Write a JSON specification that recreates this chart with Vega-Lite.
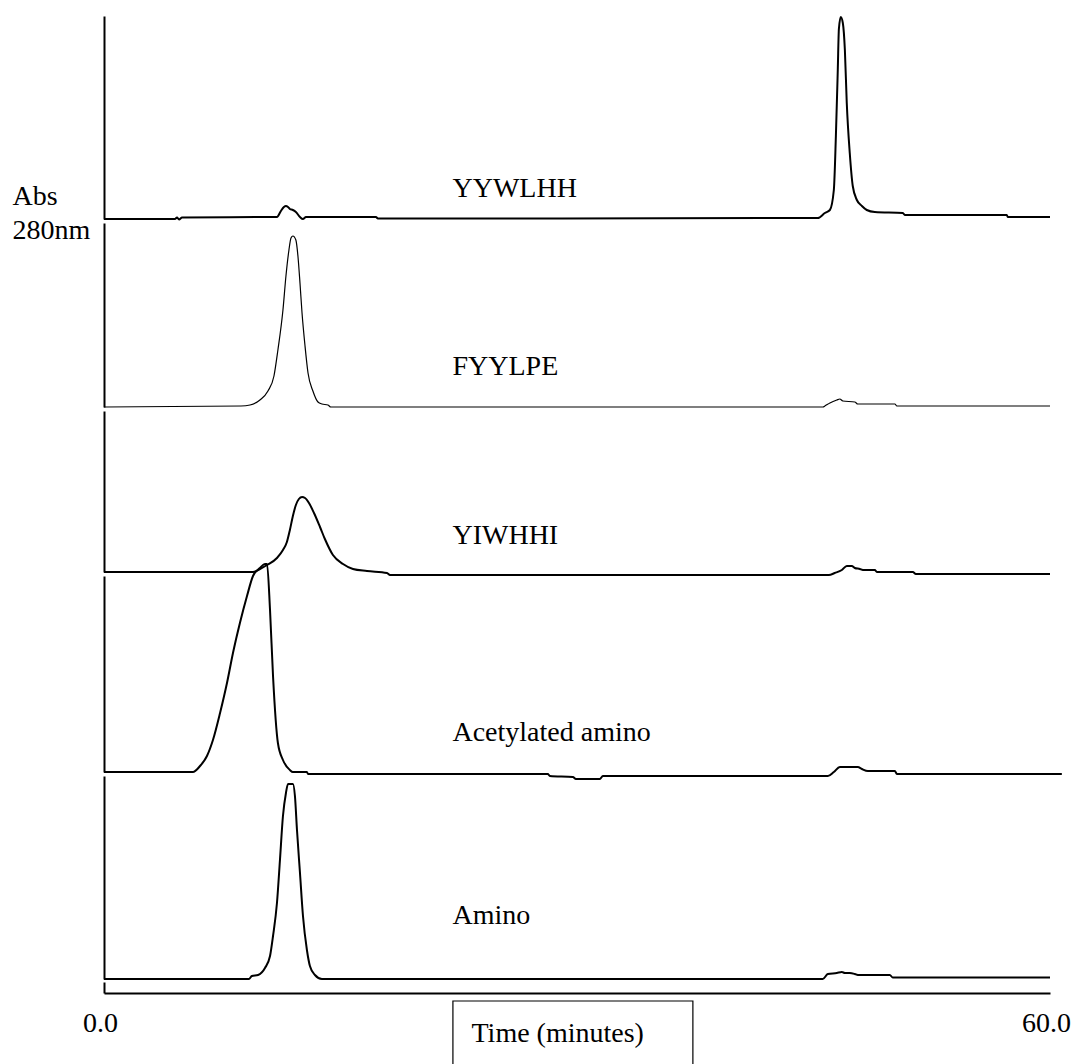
{
  "$schema": "https://vega.github.io/schema/vega-lite/v6.json",
  "background": "white",
  "padding": {"left": 12, "top": 12, "right": 0, "bottom": 0},
  "bounds": "flush",
  "spacing": 4,
  "config": {
    "view": {"stroke": null},
    "axis": {
      "domainColor": "black", "domainWidth": 2, "ticks": false, "labels": false, "grid": false,
      "titleFont": "Liberation Serif", "titleFontWeight": "normal", "titleFontSize": 28, "titleColor": "black",
      "labelFont": "Liberation Serif", "labelFontSize": 28, "labelColor": "black"
    },
    "text": {"font": "Liberation Serif", "fontSize": 28, "color": "black", "align": "left", "baseline": "alphabetic"}
  },
  "datasets": {
    "traces": [
      {"s": "YYWLHH", "t": 0, "v": 0}, {"s": "YYWLHH", "t": 4.5, "v": 0}, {"s": "YYWLHH", "t": 4.63, "v": 1.5},
      {"s": "YYWLHH", "t": 4.76, "v": -0.5}, {"s": "YYWLHH", "t": 4.95, "v": 1.5}, {"s": "YYWLHH", "t": 10.97, "v": 2},
      {"s": "YYWLHH", "t": 11.22, "v": 8}, {"s": "YYWLHH", "t": 11.41, "v": 12}, {"s": "YYWLHH", "t": 11.54, "v": 13},
      {"s": "YYWLHH", "t": 11.67, "v": 12}, {"s": "YYWLHH", "t": 11.79, "v": 10}, {"s": "YYWLHH", "t": 11.98, "v": 9},
      {"s": "YYWLHH", "t": 12.17, "v": 7}, {"s": "YYWLHH", "t": 12.43, "v": 2}, {"s": "YYWLHH", "t": 12.62, "v": 0},
      {"s": "YYWLHH", "t": 12.81, "v": 2}, {"s": "YYWLHH", "t": 17.25, "v": 2}, {"s": "YYWLHH", "t": 17.37, "v": 0.5},
      {"s": "YYWLHH", "t": 45.28, "v": 1}, {"s": "YYWLHH", "t": 45.72, "v": 6}, {"s": "YYWLHH", "t": 46.04, "v": 9},
      {"s": "YYWLHH", "t": 46.29, "v": 29}, {"s": "YYWLHH", "t": 46.42, "v": 83}, {"s": "YYWLHH", "t": 46.54, "v": 149},
      {"s": "YYWLHH", "t": 46.61, "v": 190}, {"s": "YYWLHH", "t": 46.73, "v": 202}, {"s": "YYWLHH", "t": 46.86, "v": 196},
      {"s": "YYWLHH", "t": 46.99, "v": 169}, {"s": "YYWLHH", "t": 47.11, "v": 116}, {"s": "YYWLHH", "t": 47.3, "v": 66},
      {"s": "YYWLHH", "t": 47.49, "v": 33}, {"s": "YYWLHH", "t": 47.75, "v": 19}, {"s": "YYWLHH", "t": 48.07, "v": 13},
      {"s": "YYWLHH", "t": 48.38, "v": 9}, {"s": "YYWLHH", "t": 48.89, "v": 7}, {"s": "YYWLHH", "t": 50.67, "v": 6},
      {"s": "YYWLHH", "t": 50.79, "v": 4}, {"s": "YYWLHH", "t": 57.26, "v": 4}, {"s": "YYWLHH", "t": 57.32, "v": 2},
      {"s": "YYWLHH", "t": 60, "v": 2},

      {"s": "FYYLPE", "t": 0, "v": 0}, {"s": "FYYLPE", "t": 8.69, "v": 1}, {"s": "FYYLPE", "t": 9.26, "v": 2},
      {"s": "FYYLPE", "t": 9.89, "v": 7}, {"s": "FYYLPE", "t": 10.4, "v": 16}, {"s": "FYYLPE", "t": 10.78, "v": 31},
      {"s": "FYYLPE", "t": 11.03, "v": 57}, {"s": "FYYLPE", "t": 11.35, "v": 97}, {"s": "FYYLPE", "t": 11.54, "v": 131},
      {"s": "FYYLPE", "t": 11.73, "v": 157}, {"s": "FYYLPE", "t": 11.86, "v": 169}, {"s": "FYYLPE", "t": 11.98, "v": 171},
      {"s": "FYYLPE", "t": 12.17, "v": 167}, {"s": "FYYLPE", "t": 12.3, "v": 151}, {"s": "FYYLPE", "t": 12.43, "v": 124},
      {"s": "FYYLPE", "t": 12.56, "v": 94}, {"s": "FYYLPE", "t": 12.75, "v": 61}, {"s": "FYYLPE", "t": 12.94, "v": 34},
      {"s": "FYYLPE", "t": 13.25, "v": 16}, {"s": "FYYLPE", "t": 13.57, "v": 5}, {"s": "FYYLPE", "t": 13.82, "v": 3},
      {"s": "FYYLPE", "t": 14.2, "v": 2}, {"s": "FYYLPE", "t": 14.39, "v": 0}, {"s": "FYYLPE", "t": 45.6, "v": 0},
      {"s": "FYYLPE", "t": 45.72, "v": 1}, {"s": "FYYLPE", "t": 46.04, "v": 4}, {"s": "FYYLPE", "t": 46.48, "v": 7},
      {"s": "FYYLPE", "t": 46.67, "v": 8}, {"s": "FYYLPE", "t": 46.86, "v": 6}, {"s": "FYYLPE", "t": 47.62, "v": 5},
      {"s": "FYYLPE", "t": 47.81, "v": 3}, {"s": "FYYLPE", "t": 50.16, "v": 3}, {"s": "FYYLPE", "t": 50.29, "v": 1},
      {"s": "FYYLPE", "t": 60, "v": 1},

      {"s": "YIWHHI", "t": 0, "v": 0}, {"s": "YIWHHI", "t": 9.45, "v": 0}, {"s": "YIWHHI", "t": 9.89, "v": 3},
      {"s": "YIWHHI", "t": 10.34, "v": 7}, {"s": "YIWHHI", "t": 10.97, "v": 14}, {"s": "YIWHHI", "t": 11.35, "v": 22},
      {"s": "YIWHHI", "t": 11.6, "v": 30}, {"s": "YIWHHI", "t": 11.79, "v": 42}, {"s": "YIWHHI", "t": 11.98, "v": 56},
      {"s": "YIWHHI", "t": 12.17, "v": 67}, {"s": "YIWHHI", "t": 12.36, "v": 73}, {"s": "YIWHHI", "t": 12.56, "v": 75},
      {"s": "YIWHHI", "t": 12.75, "v": 74}, {"s": "YIWHHI", "t": 13.0, "v": 69}, {"s": "YIWHHI", "t": 13.32, "v": 59},
      {"s": "YIWHHI", "t": 13.7, "v": 45}, {"s": "YIWHHI", "t": 14.01, "v": 33}, {"s": "YIWHHI", "t": 14.52, "v": 17},
      {"s": "YIWHHI", "t": 15.16, "v": 8}, {"s": "YIWHHI", "t": 15.79, "v": 3}, {"s": "YIWHHI", "t": 16.68, "v": 1},
      {"s": "YIWHHI", "t": 17.95, "v": -1}, {"s": "YIWHHI", "t": 18.14, "v": -3}, {"s": "YIWHHI", "t": 45.97, "v": -3},
      {"s": "YIWHHI", "t": 46.35, "v": -1}, {"s": "YIWHHI", "t": 46.8, "v": 2}, {"s": "YIWHHI", "t": 47.11, "v": 6},
      {"s": "YIWHHI", "t": 47.43, "v": 6}, {"s": "YIWHHI", "t": 47.62, "v": 4}, {"s": "YIWHHI", "t": 47.94, "v": 3},
      {"s": "YIWHHI", "t": 48.13, "v": 2}, {"s": "YIWHHI", "t": 48.89, "v": 2}, {"s": "YIWHHI", "t": 49.02, "v": 0},
      {"s": "YIWHHI", "t": 51.3, "v": 0}, {"s": "YIWHHI", "t": 51.49, "v": -2}, {"s": "YIWHHI", "t": 60, "v": -2},

      {"s": "Acetylated amino", "t": 0, "v": 0}, {"s": "Acetylated amino", "t": 5.64, "v": 0},
      {"s": "Acetylated amino", "t": 6.09, "v": 6}, {"s": "Acetylated amino", "t": 6.53, "v": 16},
      {"s": "Acetylated amino", "t": 6.91, "v": 32}, {"s": "Acetylated amino", "t": 7.36, "v": 59},
      {"s": "Acetylated amino", "t": 7.8, "v": 89}, {"s": "Acetylated amino", "t": 8.18, "v": 119},
      {"s": "Acetylated amino", "t": 8.62, "v": 149}, {"s": "Acetylated amino", "t": 9.07, "v": 176},
      {"s": "Acetylated amino", "t": 9.45, "v": 196}, {"s": "Acetylated amino", "t": 9.89, "v": 204},
      {"s": "Acetylated amino", "t": 10.21, "v": 208}, {"s": "Acetylated amino", "t": 10.34, "v": 208},
      {"s": "Acetylated amino", "t": 10.53, "v": 162}, {"s": "Acetylated amino", "t": 10.72, "v": 96},
      {"s": "Acetylated amino", "t": 11.03, "v": 29}, {"s": "Acetylated amino", "t": 11.35, "v": 12},
      {"s": "Acetylated amino", "t": 11.79, "v": 2}, {"s": "Acetylated amino", "t": 11.98, "v": 0},
      {"s": "Acetylated amino", "t": 12.87, "v": 0}, {"s": "Acetylated amino", "t": 12.94, "v": -2},
      {"s": "Acetylated amino", "t": 28.15, "v": -2}, {"s": "Acetylated amino", "t": 28.28, "v": -4},
      {"s": "Acetylated amino", "t": 29.74, "v": -5}, {"s": "Acetylated amino", "t": 29.93, "v": -7},
      {"s": "Acetylated amino", "t": 31.45, "v": -7}, {"s": "Acetylated amino", "t": 31.64, "v": -4},
      {"s": "Acetylated amino", "t": 45.91, "v": -4}, {"s": "Acetylated amino", "t": 46.29, "v": 0},
      {"s": "Acetylated amino", "t": 46.67, "v": 5}, {"s": "Acetylated amino", "t": 47.81, "v": 5},
      {"s": "Acetylated amino", "t": 48.07, "v": 3}, {"s": "Acetylated amino", "t": 48.45, "v": 1},
      {"s": "Acetylated amino", "t": 50.16, "v": 1}, {"s": "Acetylated amino", "t": 50.29, "v": -2},
      {"s": "Acetylated amino", "t": 60.75, "v": -2},

      {"s": "Amino", "t": 0, "v": 0}, {"s": "Amino", "t": 9.19, "v": 0}, {"s": "Amino", "t": 9.38, "v": 3},
      {"s": "Amino", "t": 9.77, "v": 4}, {"s": "Amino", "t": 10.21, "v": 11}, {"s": "Amino", "t": 10.53, "v": 23},
      {"s": "Amino", "t": 10.72, "v": 43}, {"s": "Amino", "t": 10.97, "v": 76}, {"s": "Amino", "t": 11.16, "v": 119},
      {"s": "Amino", "t": 11.35, "v": 163}, {"s": "Amino", "t": 11.54, "v": 186}, {"s": "Amino", "t": 11.67, "v": 195},
      {"s": "Amino", "t": 11.98, "v": 195}, {"s": "Amino", "t": 12.11, "v": 183}, {"s": "Amino", "t": 12.24, "v": 149},
      {"s": "Amino", "t": 12.43, "v": 106}, {"s": "Amino", "t": 12.62, "v": 63}, {"s": "Amino", "t": 12.87, "v": 29},
      {"s": "Amino", "t": 13.06, "v": 13}, {"s": "Amino", "t": 13.38, "v": 4}, {"s": "Amino", "t": 13.82, "v": 0},
      {"s": "Amino", "t": 45.59, "v": 0}, {"s": "Amino", "t": 45.91, "v": 5}, {"s": "Amino", "t": 46.48, "v": 6},
      {"s": "Amino", "t": 46.8, "v": 7}, {"s": "Amino", "t": 46.99, "v": 6}, {"s": "Amino", "t": 47.3, "v": 6},
      {"s": "Amino", "t": 47.62, "v": 5}, {"s": "Amino", "t": 47.81, "v": 4}, {"s": "Amino", "t": 49.84, "v": 4},
      {"s": "Amino", "t": 50.03, "v": 1.5}, {"s": "Amino", "t": 60, "v": 1.5}
    ]
  },
  "vconcat": [
    {
      "width": 946, "height": 203,
      "layer": [
        {
          "data": {"name": "traces"},
          "transform": [{"filter": "datum.s === 'YYWLHH'"}],
          "mark": {"type": "line", "color": "black", "strokeWidth": 2, "interpolate": "monotone", "clip": false},
          "encoding": {
            "x": {"field": "t", "type": "quantitative", "scale": {"domain": [0, 60], "nice": false, "zero": false}, "axis": null},
            "y": {"field": "v", "type": "quantitative", "scale": {"domain": [0, 203], "nice": false, "zero": false},
                  "axis": {"title": ["Abs", "280nm"], "titleAngle": 0, "titleAlign": "left", "titleBaseline": "alphabetic",
                           "titleX": -92, "titleY": 188, "titleLineHeight": 34}}
          }
        },
        {
          "data": {"values": [{"label": "YYWLHH"}]},
          "mark": {"type": "text", "font": "Liberation Serif"},
          "encoding": {
            "x": {"datum": 22.1, "type": "quantitative", "axis": null},
            "y": {"datum": 22, "type": "quantitative",
                  "axis": {"title": ["Abs", "280nm"], "titleAngle": 0, "titleAlign": "left", "titleBaseline": "alphabetic",
                           "titleX": -92, "titleY": 188, "titleLineHeight": 34}},
            "text": {"field": "label"}
          }
        }
      ]
    },
    {
      "width": 946, "height": 184,
      "layer": [
        {
          "data": {"name": "traces"},
          "transform": [{"filter": "datum.s === 'FYYLPE'"}],
          "mark": {"type": "line", "color": "black", "strokeWidth": 1.2, "interpolate": "monotone", "clip": false},
          "encoding": {
            "x": {"field": "t", "type": "quantitative", "scale": {"domain": [0, 60], "nice": false, "zero": false}, "axis": null},
            "y": {"field": "v", "type": "quantitative", "scale": {"domain": [0, 184], "nice": false, "zero": false}, "axis": {"title": null}}
          }
        },
        {
          "data": {"values": [{"label": "FYYLPE"}]},
          "mark": {"type": "text", "font": "Liberation Serif"},
          "encoding": {
            "x": {"datum": 22.1, "type": "quantitative", "axis": null},
            "y": {"datum": 32, "type": "quantitative", "axis": {"title": null}},
            "text": {"field": "label"}
          }
        }
      ]
    },
    {
      "width": 946, "height": 161,
      "layer": [
        {
          "data": {"name": "traces"},
          "transform": [{"filter": "datum.s === 'YIWHHI'"}],
          "mark": {"type": "line", "color": "black", "strokeWidth": 2, "interpolate": "monotone", "clip": false},
          "encoding": {
            "x": {"field": "t", "type": "quantitative", "scale": {"domain": [0, 60], "nice": false, "zero": false}, "axis": null},
            "y": {"field": "v", "type": "quantitative", "scale": {"domain": [0, 161], "nice": false, "zero": false}, "axis": {"title": null}}
          }
        },
        {
          "data": {"values": [{"label": "YIWHHI"}]},
          "mark": {"type": "text", "font": "Liberation Serif"},
          "encoding": {
            "x": {"datum": 22.1, "type": "quantitative", "axis": null},
            "y": {"datum": 28, "type": "quantitative", "axis": {"title": null}},
            "text": {"field": "label"}
          }
        }
      ]
    },
    {
      "width": 946, "height": 196,
      "layer": [
        {
          "data": {"name": "traces"},
          "transform": [{"filter": "datum.s === 'Acetylated amino'"}],
          "mark": {"type": "line", "color": "black", "strokeWidth": 2, "interpolate": "monotone", "clip": false},
          "encoding": {
            "x": {"field": "t", "type": "quantitative", "scale": {"domain": [0, 60], "nice": false, "zero": false}, "axis": null},
            "y": {"field": "v", "type": "quantitative", "scale": {"domain": [0, 196], "nice": false, "zero": false}, "axis": {"title": null}}
          }
        },
        {
          "data": {"values": [{"label": "Acetylated amino"}]},
          "mark": {"type": "text", "font": "Liberation Serif"},
          "encoding": {
            "x": {"datum": 22.1, "type": "quantitative", "axis": null},
            "y": {"datum": 31, "type": "quantitative", "axis": {"title": null}},
            "text": {"field": "label"}
          }
        }
      ]
    },
    {
      "width": 946, "height": 203,
      "layer": [
        {
          "data": {"name": "traces"},
          "transform": [{"filter": "datum.s === 'Amino'"}],
          "mark": {"type": "line", "color": "black", "strokeWidth": 2, "interpolate": "monotone", "clip": false},
          "encoding": {
            "x": {"field": "t", "type": "quantitative", "scale": {"domain": [0, 60], "nice": false, "zero": false},
                  "axis": {"orient": "bottom", "offset": 14, "values": [0, 60], "format": ".1f", "labels": true, "labelFlush": false,
                           "labelOffset": -4,
                           "ticks": true, "tickSize": -11, "tickWidth": 2,
                           "tickColor": {"condition": {"test": "datum.value === 0", "value": "black"}, "value": "transparent"},
                           "labelPadding": 27, "labelBaseline": "top",
                           "title": "Time (minutes)", "titleX": 367, "titleY": 48, "titleBaseline": "alphabetic", "titleAlign": "left"}},
            "y": {"field": "v", "type": "quantitative", "scale": {"domain": [0, 203], "nice": false, "zero": false}, "axis": {"title": null}}
          }
        },
        {
          "data": {"values": [{"label": "Amino"}]},
          "mark": {"type": "text", "font": "Liberation Serif"},
          "encoding": {
            "x": {"datum": 22.1, "type": "quantitative"},
            "y": {"datum": 55, "type": "quantitative", "axis": {"title": null}},
            "text": {"field": "label"}
          }
        },
        {
          "data": {"values": [{"label": "Time (minutes)"}]},
          "mark": {"type": "rect", "fill": "transparent", "stroke": "black", "strokeWidth": 1.2, "clip": false},
          "encoding": {
            "x": {"datum": 22.13, "type": "quantitative"},
            "x2": {"datum": 37.35},
            "y": {"datum": -22, "type": "quantitative", "axis": {"title": null}},
            "y2": {"datum": -100}
          }
        }
      ]
    }
  ]
}
